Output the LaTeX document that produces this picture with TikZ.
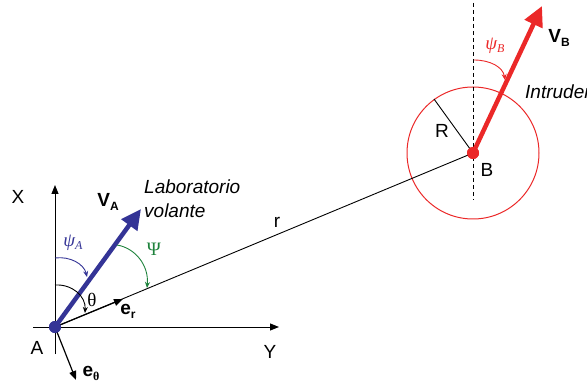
\documentclass[tikz,border=0pt]{standalone}
\usepackage{fontspec}
\setmainfont{Liberation Sans}
\newfontfamily\grk{Liberation Serif}
\usetikzlibrary{arrows.meta}
\definecolor{vblue}{RGB}{52,52,150}
\definecolor{vred}{RGB}{235,40,40}
\definecolor{vgreen}{RGB}{30,130,60}
\begin{document}
\begin{tikzpicture}[x=1pt,y=-1pt,
  lbl/.style={font=\fontsize{19}{22}\selectfont, inner sep=0pt},
  axis/.style={line width=1pt, -{Triangle[length=9pt,width=7pt]}},
  vec/.style={line width=1.2pt, -{Triangle[length=9pt,width=7pt]}},
  big/.style={line width=4.5pt, -{Triangle[length=20pt,width=19pt]}},
  angarc/.style={line width=0.9pt, -{Stealth[length=6pt,width=5pt]}},
  dot/.style={circle, inner sep=0pt, minimum size=12pt}]
\useasboundingbox (0,0) rectangle (587,385);
% nodes
\node[dot, fill=vblue] (A) at (55,327) {};
\node[dot, fill=vred] (B) at (473,153) {};
\coordinate (Xtop) at (55,185);
\coordinate (Xbot) at (55,354);
\coordinate (Yleft) at (33,327);
\coordinate (Yright) at (279,327);
\coordinate (VAtip) at (141,209);
\coordinate (VBtip) at (542,6);
\coordinate (ertip) at (123,299);
\coordinate (ethtip) at (76,380);
\coordinate (Rend) at (434,99);
\coordinate (Dtop) at (473,3);
\coordinate (Dbot) at (473,200);
% circle
\draw[vred, line width=1pt] (B.center) circle[radius=66pt];
\draw[dashed, dash pattern=on 4pt off 3pt, line width=0.9pt] (Dtop) -- (Dbot);
\draw[line width=0.9pt] (B.center) -- (Rend);
% axes
\draw[axis] (Xbot) -- (Xtop);
\draw[axis] (Yleft) -- (Yright);
% r line
\draw[line width=0.9pt] (A.center) -- (B.center);
% unit vectors
\draw[vec] (A.center) -- (ertip);
\draw[vec] (A.center) -- (ethtip);
% velocities
\draw[big, vblue] (A.center) -- (VAtip);
\draw[big, vred] (B.center) -- (VBtip);
\node[dot, fill=vblue] at (A) {};
\node[dot, fill=vred] at (B) {};
% angle arcs
\draw[angarc] (55,285) .. controls (72,284) and (86,296) .. (85,313);
\draw[angarc, vblue] (55,258) .. controls (70,256) and (84,264) .. (87,277);
\draw[angarc, vgreen] (117,245) .. controls (135,248) and (149,265) .. (147,288);
\draw[angarc, vred] (474,60) .. controls (490,60) and (503,67) .. (505,80);
% labels
\node[lbl] (lX) at (18,197) {X};
\node[lbl] (lY) at (270,352) {Y};
\node[lbl] (lA) at (37,348) {A};
\node[lbl] (lB) at (487,170) {B};
\node[lbl] (lR) at (442,131) {R};
\node[lbl] (lr) at (277,222) {r};
\node[lbl] (lVA) at (108,202) {\textbf{V}\raisebox{-4pt}{\fontsize{12}{14}\selectfont\textbf{A}}};
\node[lbl] (lVB) at (559,38) {\textbf{V}\raisebox{-4pt}{\fontsize{12}{14}\selectfont\textbf{B}}};
\node[lbl, anchor=west, align=left, font=\fontsize{19}{24}\selectfont\itshape] (lab) at (144,199) {Laboratorio\\volante};
\node[lbl, anchor=west, font=\fontsize{19}{22}\selectfont\itshape] (intr) at (525,92) {Intruder};
\node[lbl] (ler) at (128,311) {\textbf{e}\raisebox{-4pt}{\fontsize{12}{14}\selectfont\textbf{r}}};
\node[lbl] (leth) at (91,373) {\textbf{e}\raisebox{-4pt}{\fontsize{12}{14}\selectfont\grk\bfseries θ}};
\node[lbl] (lth) at (92,300) {\grk θ};
\node[lbl, text=vblue] (lpsiA) at (73,243) {\grk\itshape ψ\raisebox{-3pt}{\fontsize{12}{14}\selectfont A}};
\node[lbl, text=vgreen] (lPsi) at (154,249) {\grk Ψ};
\node[lbl, text=vred] (lpsiB) at (495,46) {\grk\itshape ψ\raisebox{-3pt}{\fontsize{12}{14}\selectfont B}};
\end{tikzpicture}
\end{document}
